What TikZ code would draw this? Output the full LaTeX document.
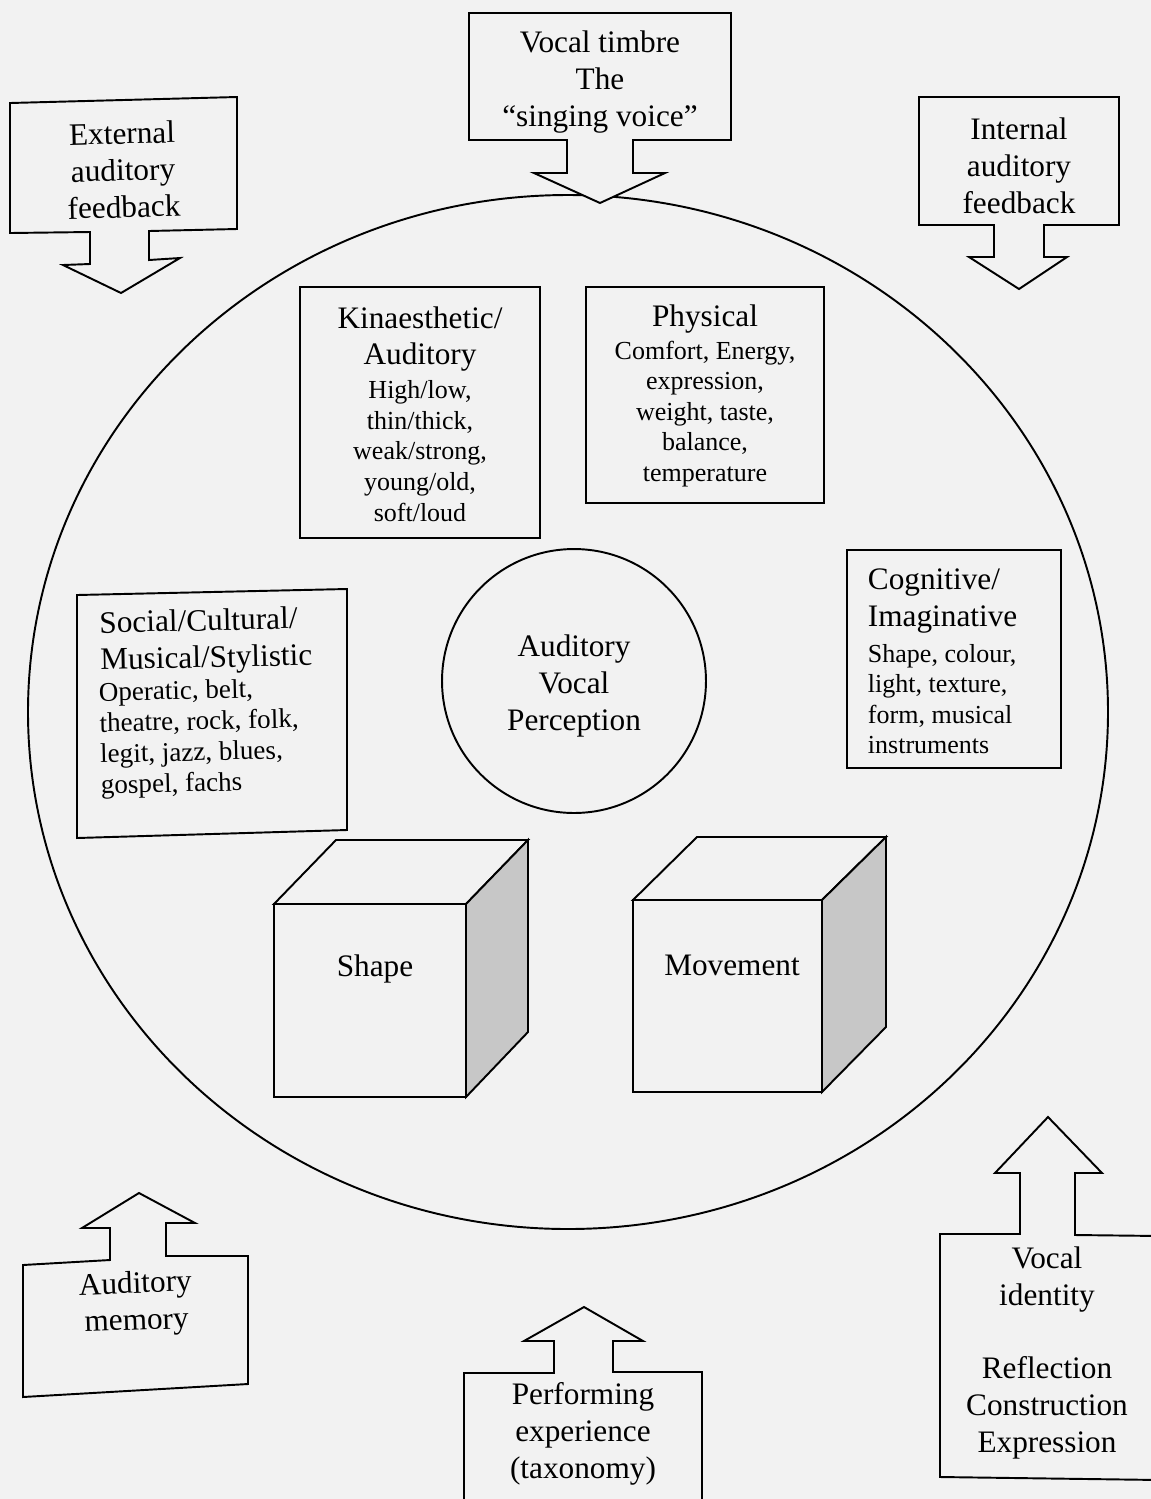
\documentclass[tikz,border=0pt]{standalone}
\usepackage{fontspec}
\setmainfont{Liberation Serif}
\usepackage{tikz}
\usetikzlibrary{arrows}
\definecolor{paper}{gray}{0.95}
\definecolor{shade}{gray}{0.78}

\begin{document}
\begin{tikzpicture}[x=0.02cm,y=-0.02cm,line width=1.1pt,line join=miter,
  callout/.style={draw,fill=paper},
  panel/.style={draw},
  head/.style={inner sep=0pt,align=center,font=\fontsize{17.8}{21}\selectfont},
  body/.style={inner sep=0pt,align=center,font=\fontsize{14.8}{17.4}\selectfont},
  face/.style={draw,fill=paper},
  side/.style={draw,fill=shade}]

  \useasboundingbox[fill=paper] (0,0) rectangle (1151,1499);

  % The outer circle
  \draw (568,712) ellipse [x radius=540, y radius=517];

  % Callouts pointing in
  \draw[callout] (469,13) -- (731,13) -- (731,140) -- (633,140) -- (633,173) -- (665,173)
    -- (600,203) -- (534,173) -- (567,173) -- (567,140) -- (469,140) -- cycle;
  \node[head] (timbre) at (600,82) {Vocal timbre\\The\\``singing voice''};

  \draw[callout] (10,103) -- (237,97) -- (237,229) -- (149,231) -- (149,260) -- (180,258)
    -- (121,293) -- (63,265) -- (90,264) -- (90,232) -- (10,233) -- cycle;
  \node[head,rotate=1.5] (extfb) at (123,170) {External\\auditory\\feedback};

  \draw[callout] (919,97) -- (1119,97) -- (1119,225) -- (1044,225) -- (1044,257) -- (1067,257)
    -- (1019,289) -- (969,257) -- (994,257) -- (994,225) -- (919,225) -- cycle;
  \node[head] (intfb) at (1019,166) {Internal\\auditory\\feedback};

  \draw[callout] (139,1193) -- (195,1223) -- (166,1223) -- (166,1256) -- (248,1256) -- (248,1384)
    -- (23,1397) -- (23,1265) -- (110,1260) -- (110,1228) -- (82,1228) -- cycle;
  \node[head,rotate=2] (memory) at (136,1304) {Auditory\\memory};

  \draw[callout] (584,1307) -- (643,1341) -- (613,1341) -- (613,1372) -- (702,1372) -- (702,1510)
    -- (464,1510) -- (464,1373) -- (554,1373) -- (554,1341) -- (524,1341) -- cycle;
  \node[head] (perform) at (583,1434) {Performing\\experience\\(taxonomy)};

  \draw[callout] (1048,1117) -- (1102,1173) -- (1075,1173) -- (1075,1235) -- (1160,1236) -- (1160,1480)
    -- (940,1477) -- (940,1234) -- (1020,1234) -- (1020,1173) -- (995,1173) -- cycle;
  \node[head] (identity) at (1047,1353) {Vocal\\identity\\[21pt]Reflection\\Construction\\Expression};

  % Boxes inside the circle
  \draw[panel] (300,287) rectangle (540,538);
  \node[head] (kinhead) at (420,339) {Kinaesthetic/\\Auditory};
  \node[body] (kinbody) at (420,451) {High/low,\\thin/thick,\\weak/strong,\\young/old,\\soft/loud};

  \draw[panel] (586,287) rectangle (824,503);
  \node[head] (physhead) at (705,319) {Physical};
  \node[body] (physbody) at (705,414) {Comfort, Energy,\\expression,\\weight, taste,\\balance,\\temperature};

  \draw[panel] (77,595) -- (347,589) -- (347,830) -- (77,838) -- cycle;
  \node[head,align=left,anchor=west,rotate=1.3] (sochead) at (99,644) {Social/Cultural/\\Musical/Stylistic};
  \node[body,align=left,anchor=west,rotate=1.3,font=\fontsize{15.4}{17.6}\selectfont] (socbody) at (99,741)
    {Operatic, belt,\\theatre, rock, folk,\\legit, jazz, blues,\\gospel, fachs};

  \draw[panel] (847,550) rectangle (1061,768);
  \node[head,align=left,anchor=west] (coghead) at (867,601) {Cognitive/\\Imaginative};
  \node[body,align=left,anchor=west] (cogbody) at (867,699) {Shape, colour,\\light, texture,\\form, musical\\instruments};

  % The centre
  \node[draw,circle,minimum size=5.28cm,head] (avp) at (574,681) {};
  \node[head] (avptext) at (574,686) {Auditory\\Vocal\\Perception};

  % The two cubes
  \draw[face] (274,904) rectangle (466,1097);
  \draw[face] (274,904) -- (336,840) -- (528,840) -- (466,904) -- cycle;
  \draw[side] (466,904) -- (528,840) -- (528,1032) -- (466,1097) -- cycle;
  \node[head] (shape) at (375,969) {Shape};

  \draw[face] (633,900) rectangle (822,1092);
  \draw[face] (633,900) -- (697,837) -- (886,837) -- (822,900) -- cycle;
  \draw[side] (822,900) -- (886,837) -- (886,1027) -- (822,1092) -- cycle;
  \node[head] (movement) at (732,965) {Movement};

\end{tikzpicture}
\end{document}
